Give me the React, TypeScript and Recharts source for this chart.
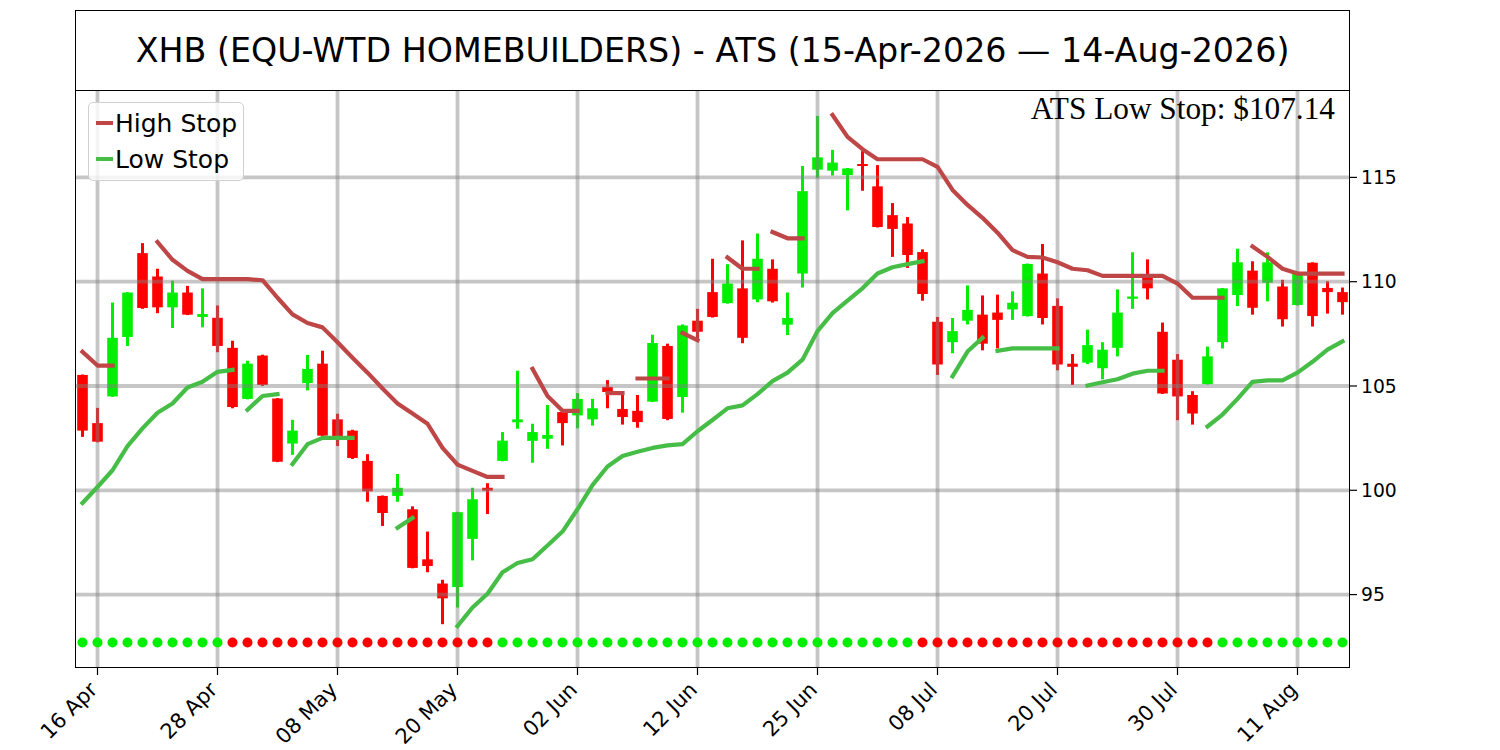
import React from "react";
import { ComposedChart, Bar, Line, XAxis, YAxis, ReferenceLine } from "recharts";

// trading days, 15-Apr-2026 .. 14-Aug-2026
const dates = [
  "15 Apr", "16 Apr", "17 Apr", "20 Apr", "21 Apr", "22 Apr", "23 Apr", "24 Apr", "27 Apr", "28 Apr", "29 Apr", "30 Apr",
  "01 May", "04 May", "05 May", "06 May", "07 May", "08 May", "11 May", "12 May", "13 May", "14 May", "15 May",
  "18 May", "19 May", "20 May", "21 May", "22 May", "26 May", "27 May", "28 May", "29 May",
  "01 Jun", "02 Jun", "03 Jun", "04 Jun", "05 Jun", "08 Jun", "09 Jun", "10 Jun", "11 Jun", "12 Jun",
  "15 Jun", "16 Jun", "17 Jun", "18 Jun", "22 Jun", "23 Jun", "24 Jun", "25 Jun", "26 Jun", "29 Jun", "30 Jun",
  "01 Jul", "02 Jul", "06 Jul", "07 Jul", "08 Jul", "09 Jul", "10 Jul", "13 Jul", "14 Jul", "15 Jul", "16 Jul", "17 Jul",
  "20 Jul", "21 Jul", "22 Jul", "23 Jul", "24 Jul", "27 Jul", "28 Jul", "29 Jul", "30 Jul", "31 Jul",
  "03 Aug", "04 Aug", "05 Aug", "06 Aug", "07 Aug", "10 Aug", "11 Aug", "12 Aug", "13 Aug", "14 Aug",
];

const opens = [
  105.53, 103.22, 104.5, 107.35, 111.37, 110.25, 108.77, 109.48, 108.31, 108.27, 106.83, 104.38,
  106.46, 104.4, 102.24, 105.14, 106.07, 103.4, 102.86, 101.41, 99.73, 99.73, 99.09,
  96.69, 95.53, 95.36, 97.67, 100.12, 101.41, 103.26, 102.37, 102.47,
  103.75, 103.59, 103.4, 104.96, 103.9, 103.81, 104.25, 106.92, 104.47, 108.13,
  109.5, 108.97, 109.68, 109.15, 110.62, 107.94, 110.39, 115.37, 115.32, 115.11, 115.64,
  114.57, 113.19, 112.79, 111.42, 108.08, 107.1, 108.13, 108.42, 108.52, 108.67, 108.35, 110.39,
  108.84, 106.07, 106.12, 105.85, 106.83, 109.18, 110.3, 107.6, 106.26, 104.57,
  105.09, 107.1, 109.36, 110.53, 109.95, 109.77, 108.88, 110.91, 109.7, 109.5,
];
const highs = [
  105.55, 103.95, 109.0, 109.5, 111.85, 110.62, 110.05, 109.8, 109.68, 108.86, 107.17, 106.21,
  106.5, 104.42, 103.38, 106.49, 106.69, 103.67, 102.9, 101.73, 99.75, 100.78, 99.23,
  98.02, 95.71, 98.97, 100.12, 100.34, 102.79, 105.73, 103.19, 104.09,
  103.78, 104.66, 104.38, 105.28, 104.57, 104.57, 107.46, 107.03, 107.95, 108.7,
  111.1, 110.84, 111.98, 112.31, 111.07, 109.48, 115.55, 117.95, 116.32, 115.45, 116.26,
  115.59, 113.77, 113.1, 111.55, 108.31, 108.26, 109.82, 109.34, 109.38, 109.54, 110.87, 111.81,
  109.2, 106.53, 107.7, 107.1, 109.63, 111.41, 111.07, 108.04, 106.53, 104.75,
  106.89, 109.7, 111.58, 110.98, 111.41, 110.09, 110.45, 110.93, 110.02, 109.72,
];
const lows = [
  102.56, 102.3, 104.48, 106.92, 108.7, 108.49, 107.78, 108.4, 107.81, 106.62, 103.93, 104.36,
  105.0, 101.35, 101.7, 104.79, 102.6, 102.12, 101.5, 99.45, 98.29, 99.45, 96.26,
  96.07, 93.58, 94.38, 96.64, 98.86, 101.39, 102.95, 101.32, 101.99,
  102.15, 102.97, 103.1, 103.93, 103.15, 103.0, 104.23, 103.36, 103.72, 107.24,
  108.28, 108.95, 107.05, 109.02, 109.0, 107.44, 109.72, 114.98, 115.09, 113.42, 114.36,
  112.6, 111.19, 110.66, 109.09, 105.53, 106.57, 107.95, 106.71, 106.8, 108.17, 108.33, 107.95,
  105.75, 105.05, 106.05, 105.32, 106.42, 108.7, 109.15, 104.62, 103.36, 103.15,
  105.07, 106.8, 108.83, 108.42, 109.06, 107.85, 108.86, 107.85, 108.47, 108.42,
];
const closes = [
  102.86, 102.33, 107.31, 109.48, 108.74, 108.77, 109.48, 108.42, 108.45, 106.92, 103.99, 106.07,
  105.05, 101.37, 102.86, 105.82, 102.62, 102.56, 101.55, 99.95, 98.91, 100.12, 96.28,
  96.37, 94.82, 98.95, 99.57, 99.98, 102.38, 103.4, 102.79, 102.65,
  103.22, 104.38, 103.93, 104.71, 103.51, 103.27, 107.06, 103.42, 107.9, 107.6,
  108.31, 109.91, 107.31, 111.1, 109.06, 108.26, 114.34, 115.96, 115.71, 115.43, 115.55,
  112.62, 112.53, 111.28, 109.41, 106.03, 107.63, 108.65, 107.03, 108.17, 108.99, 110.85, 108.26,
  106.03, 105.92, 106.96, 106.74, 108.52, 109.29, 109.68, 104.64, 104.5, 103.68,
  106.42, 109.68, 110.93, 108.75, 110.93, 108.2, 110.43, 108.35, 109.5, 109.02,
];

// [first day index, values]
const highStopSegments: [number, number[]][] = [
  [0, [106.64, 105.98, 105.98]],
  [5, [111.9, 111.05, 110.52, 110.12, 110.12, 110.12, 110.12, 110.07, 109.23, 108.43, 108.02, 107.81,
    107.1, 106.35, 105.64, 104.88, 104.16, 103.68, 103.19, 102.03, 101.23, 100.93, 100.64, 100.64]],
  [30, [105.82, 104.52, 103.81, 103.81]],
  [35, [104.66, 104.66]],
  [37, [105.36, 105.36, 105.36]],
  [40, [107.54, 107.19]],
  [43, [111.16, 110.62, 110.62]],
  [46, [112.38, 112.08, 112.08]],
  [50, [117.99, 116.94, 116.35, 115.87, 115.87, 115.87, 115.87, 115.5, 114.4, 113.68, 113.06, 112.35,
    111.51, 111.19, 111.16, 110.93, 110.62, 110.55, 110.28, 110.28, 110.28, 110.28, 110.28, 109.91,
    109.23, 109.23, 109.23]],
  [78, [111.69, 111.19, 110.62, 110.39, 110.39, 110.39, 110.39]],
];
const lowStopSegments: [number, number[]][] = [
  [0, [99.39, 100.16, 100.96, 102.12, 102.97, 103.72, 104.16, 104.93, 105.2, 105.68, 105.77]],
  [11, [103.86, 104.52, 104.61]],
  [14, [101.26, 102.21, 102.51, 102.51, 102.51]],
  [21, [98.2, 98.68]],
  [25, [93.49, 94.38, 95.04, 96.07, 96.51, 96.69, 97.35, 98.02, 99.09, 100.25, 101.14, 101.64, 101.85,
    102.03, 102.15, 102.21, 102.83, 103.37, 103.93, 104.07, 104.61, 105.23, 105.64, 106.26, 107.63,
    108.49, 109.09, 109.68, 110.39, 110.69, 110.84, 110.98]],
  [58, [105.46, 106.65, 107.31]],
  [61, [106.69, 106.8, 106.8, 106.8, 106.8]],
  [67, [105.02, 105.18, 105.32, 105.59, 105.73, 105.73]],
  [75, [103.06, 103.63, 104.38, 105.2, 105.27, 105.27, 105.64, 106.16, 106.74, 107.14]],
];

// day ranges where the trend dot is red
const downTrendRanges: [number, number][] = [[10, 27], [56, 75]];
const dotLevel = 92.7;

const tickDates = ["16 Apr", "28 Apr", "08 May", "20 May", "02 Jun", "12 Jun", "25 Jun", "08 Jul", "20 Jul", "30 Jul", "11 Aug"];
const yTicks = [95, 100, 105, 110, 115];
const atsLowStop = 107.14;

const RED = "#ff0000";
const GREEN = "#00ee00";
const HIGH_STOP = "#bf4646";
const LOW_STOP = "#46bd46";
const FONT = "'DejaVu Sans', sans-serif";

const data = dates.map((date, i) => {
  const row: any = {
    date,
    open: opens[i],
    high: highs[i],
    low: lows[i],
    close: closes[i],
    range: [lows[i], highs[i]],
    dot: dotLevel,
    down: downTrendRanges.some(([a, b]) => i >= a && i <= b),
  };
  return row;
});
highStopSegments.forEach(([start, vals], k) =>
  vals.forEach((v, j) => {
    data[start + j]["h" + k] = v;
  })
);
lowStopSegments.forEach(([start, vals], k) =>
  vals.forEach((v, j) => {
    data[start + j]["l" + k] = v;
  })
);

const Candle = (props: any) => {
  const { x, y, width, height, payload } = props;
  const { open, close, high, low } = payload;
  const top = Math.min(y, y + height);
  const span = Math.abs(height);
  const ppu = span / (high - low);
  const py = (v: number) => top + (high - v) * ppu;
  const cx = x + width / 2;
  const color = close >= open ? GREEN : RED;
  const bodyTop = py(Math.max(open, close));
  const bodyH = Math.max(py(Math.min(open, close)) - bodyTop, 2);
  return (
    <g>
      <rect x={cx - 1.5} y={top} width={3} height={span} fill={color} />
      <rect x={cx - 5.3} y={bodyTop} width={10.6} height={bodyH} fill={color} />
    </g>
  );
};

const DateTick = (props: any) => {
  const { x, y, payload } = props;
  if (!tickDates.includes(payload.value)) return <g />;
  const tx = x + 1;
  const ty = y + 16;
  return (
    <g>
      <line x1={x} x2={x} y1={y - 7} y2={y} stroke="#000" strokeWidth={1.2} />
      <text
        x={tx}
        y={ty}
        textAnchor="end"
        transform={`rotate(-45, ${tx}, ${ty})`}
        fontSize={21}
        fontFamily={FONT}
        fill="#000"
      >
        {payload.value}
      </text>
    </g>
  );
};

export default function App() {
  return (
    <div style={{ position: "absolute", left: 0, top: 0, width: 1500, height: 750, background: "#fff" }}>
      <ComposedChart
        width={1500}
        height={750}
        data={data}
        margin={{ top: 90, right: 90, bottom: 12, left: 75 }}
        barCategoryGap={0}
      >
        <XAxis
          dataKey="date"
          interval={0}
          tickLine={false}
          axisLine={false}
          tickSize={7}
          tickMargin={0}
          height={70}
          tick={<DateTick />}
        />
        <YAxis
          orientation="right"
          domain={[91.48, 119.19]}
          allowDataOverflow
          ticks={yTicks}
          width={60}
          axisLine={false}
          tickSize={7}
          tickMargin={4}
          tickLine={{ stroke: "#000", strokeWidth: 1.2 }}
          tick={{ fill: "#000", fontSize: 18.75, fontFamily: FONT }}
        />
        <Bar dataKey="range" shape={<Candle />} isAnimationActive={false} />
        <Line
          dataKey="dot"
          stroke="none"
          isAnimationActive={false}
          dot={(p: any) => (
            <circle key={p.index} cx={p.cx} cy={p.cy} r={5} fill={p.payload.down ? RED : GREEN} />
          )}
        />
        {yTicks.map((v) => (
          <ReferenceLine key={"gy" + v} y={v} stroke="#808080" strokeOpacity={0.45} strokeWidth={3.8} />
        ))}
        {tickDates.map((d) => (
          <ReferenceLine key={"gx" + d} x={d} stroke="#808080" strokeOpacity={0.45} strokeWidth={3.8} />
        ))}
        {highStopSegments.map((_, k) => (
          <Line
            key={"h" + k}
            dataKey={"h" + k}
            stroke={HIGH_STOP}
            strokeWidth={4.2}
            strokeLinecap="square"
            strokeLinejoin="round"
            dot={false}
            activeDot={false}
            isAnimationActive={false}
          />
        ))}
        {lowStopSegments.map((_, k) => (
          <Line
            key={"l" + k}
            dataKey={"l" + k}
            stroke={LOW_STOP}
            strokeWidth={4.2}
            strokeLinecap="square"
            strokeLinejoin="round"
            dot={false}
            activeDot={false}
            isAnimationActive={false}
          />
        ))}
      </ComposedChart>

      {/* title box */}
      <div
        style={{
          position: "absolute",
          left: 75,
          top: 10,
          width: 1275,
          height: 80,
          boxSizing: "border-box",
          border: "1.5px solid #000",
          borderBottom: "none",
          display: "flex",
          alignItems: "center",
          justifyContent: "center",
          fontFamily: FONT,
          fontSize: 33.3,
          color: "#000",
        }}
      >
        XHB (EQU-WTD HOMEBUILDERS) - ATS (15-Apr-2026 — 14-Aug-2026)
      </div>

      {/* plot frame */}
      <div
        style={{
          position: "absolute",
          left: 75,
          top: 90,
          width: 1275,
          height: 578,
          boxSizing: "border-box",
          border: "1.5px solid #000",
          pointerEvents: "none",
        }}
      />

      <div
        style={{
          position: "absolute",
          right: 1500 - 1335,
          top: 91,
          fontFamily: "'Liberation Serif', 'Times New Roman', serif",
          fontSize: 31.3,
          color: "#000",
          whiteSpace: "nowrap",
        }}
      >
        ATS Low Stop: ${atsLowStop.toFixed(2)}
      </div>

      {/* legend */}
      <div
        style={{
          position: "absolute",
          left: 88,
          top: 102,
          width: 156,
          height: 79,
          boxSizing: "border-box",
          border: "1.5px solid #d0d0d0",
          borderRadius: 5,
          background: "rgba(255,255,255,0.8)",
          fontFamily: FONT,
          fontSize: 25,
          color: "#000",
        }}
      >
        {[
          { label: "High Stop", color: HIGH_STOP, top: 20 },
          { label: "Low Stop", color: LOW_STOP, top: 56 },
        ].map((it) => (
          <div key={it.label} style={{ position: "absolute", left: 7, top: it.top - 16, height: 32, display: "flex", alignItems: "center" }}>
            <div style={{ width: 17, height: 4, background: it.color, marginRight: 2 }} />
            <span>{it.label}</span>
          </div>
        ))}
      </div>
    </div>
  );
}
